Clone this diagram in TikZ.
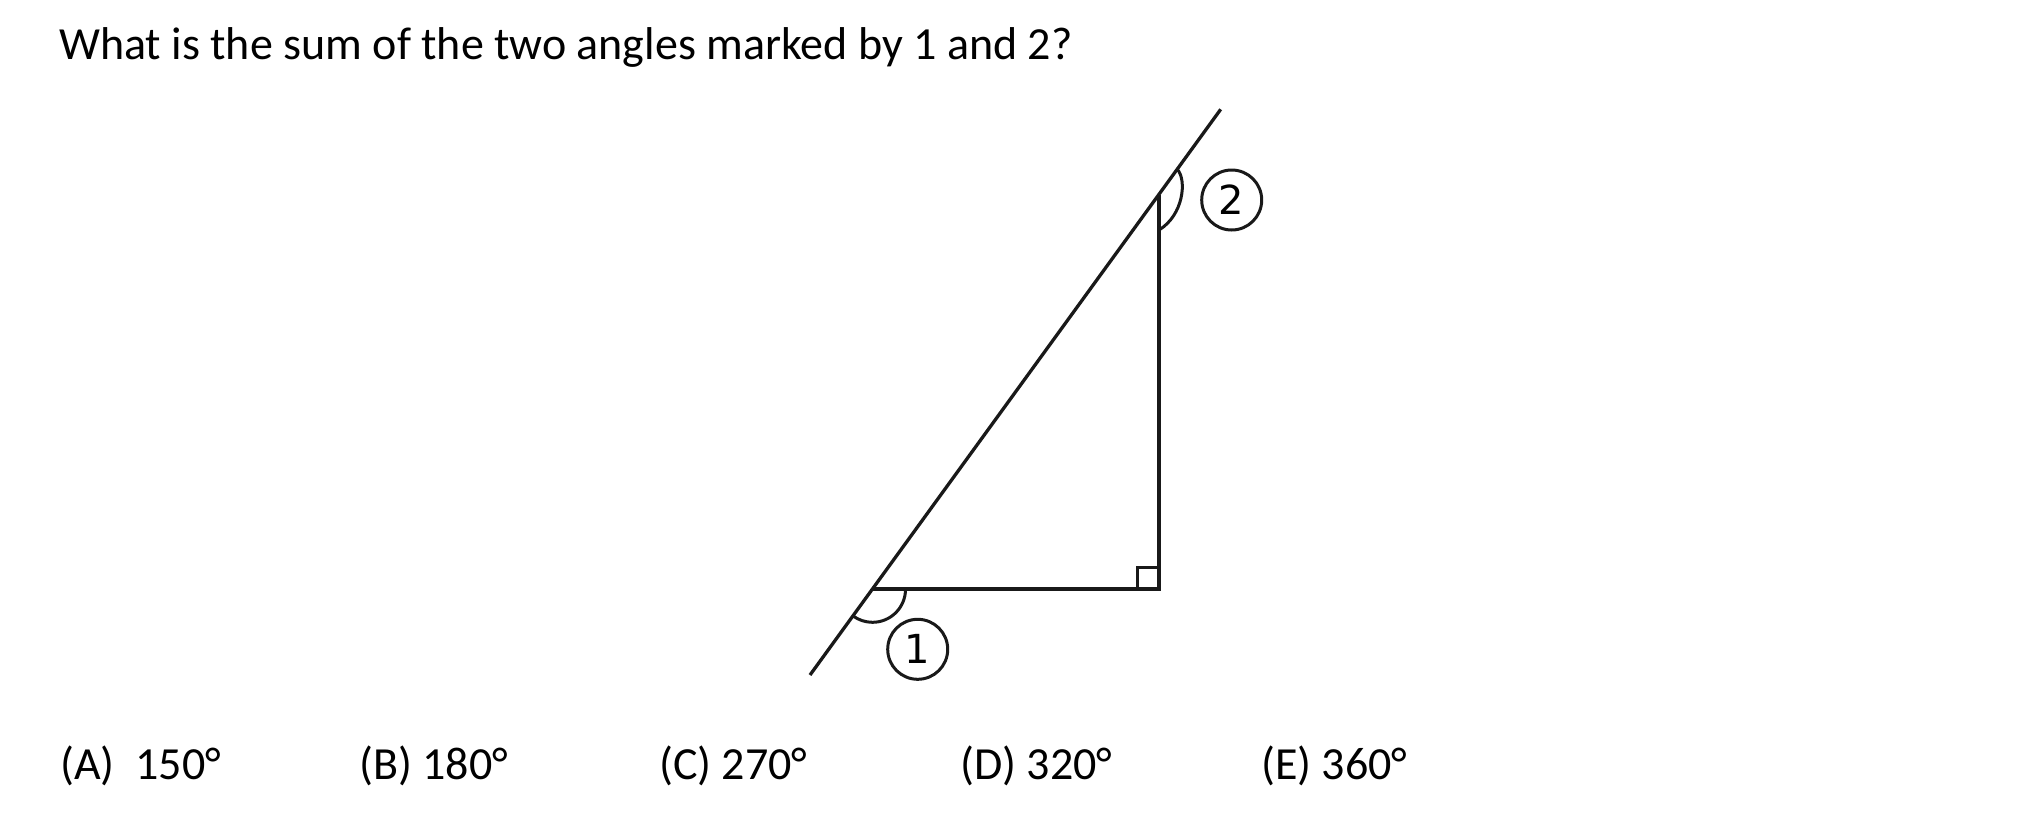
\documentclass[tikz,border=0pt]{standalone}
\usepackage{fontspec}
\setmainfont{Carlito}
\newfontfamily\digitfont{DejaVu Sans}
\tikzset{
  geo/.style={line width=3.8pt, line cap=butt, black!90},
  thinline/.style={line width=3.3pt, black!90},
  anglemark/.style={line width=3pt, black!90},
  numcircle/.style={circle, draw=black!90, line width=3pt, minimum size=60pt, inner sep=0pt, font=\digitfont\fontsize{40}{40}\selectfont},
  txt/.style={anchor=base west, inner sep=0pt, font=\fontsize{46}{54}\selectfont}
}
\begin{document}
\begin{tikzpicture}[x=1pt, y=-1pt]
\useasboundingbox (0,0) rectangle (2036,814);
% title
\node[txt] (title) at (59,59.3) {What is the sum of the two angles marked by 1 and 2?};
% geometry
\coordinate (L1) at (810,675);
\coordinate (L2) at (1220.7,109.3);
\coordinate (A) at (872.5,589.3);
\coordinate (C) at (1159,589.3);
\coordinate (B) at (1159,195);
\draw[thinline] (L1) -- (L2);
\draw[geo, line join=miter] (A) -- (C) -- (B);
% right angle marker
\draw[anglemark] ([xshift=-22pt]C) -- ++(0,-22) -- ++(22,0);
% angle 1
\draw[anglemark] ([xshift=33pt]A) arc[start angle=0, end angle=126, radius=33];
% angle 2
\coordinate (P2) at (1177.3,169.3);
\coordinate (Q2) at (1159,230);
\draw[anglemark] (P2) .. controls (1187,180) and (1183.6,215) .. (Q2);
% labels
\node[numcircle] (n1) at (917.7,649.3) {1};
\node[numcircle] (n2) at (1231.7,200) {2};
% answers
\node[txt] (ansA) at (60,779.3) {(A)~~150°};
\node[txt] (ansB) at (359,779.3) {(B) 180°};
\node[txt] (ansC) at (659,779.3) {(C) 270°};
\node[txt] (ansD) at (960,779.3) {(D) 320°};
\node[txt] (ansE) at (1261,779.3) {(E) 360°};
\end{tikzpicture}
\end{document}
